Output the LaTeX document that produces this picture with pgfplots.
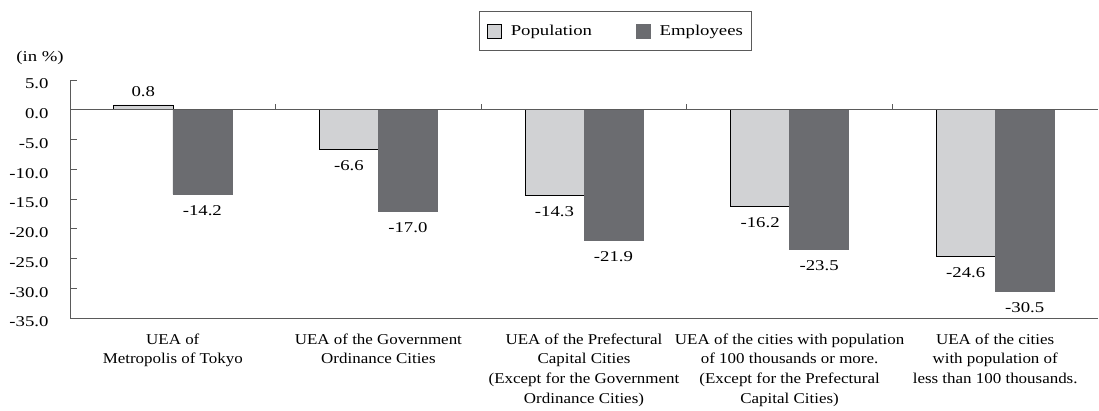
\documentclass[border=0pt]{standalone}
\usepackage{pgfplots}
\pgfplotsset{compat=1.18}
\usepackage{fontspec}
\setmainfont{Liberation Serif}[FakeStretch=1.13]
\newfontfamily\numfont{Liberation Serif}[FakeStretch=1.25]
\definecolor{popgray}{HTML}{D1D2D4}
\definecolor{empgray}{HTML}{6B6C70}
\definecolor{axgray}{HTML}{5A5A5A}
\begin{document}
\begin{tikzpicture}[font=\fontsize{15}{19.7}\selectfont]
\useasboundingbox (0,0) rectangle (1099pt,410pt);
\begin{axis}[
  at={(70pt,92pt)}, anchor=south west,
  scale only axis, width=1028pt, height=238pt,
  xmin=-0.5, xmax=4.5, ymin=-35, ymax=5,
  axis x line*=bottom, axis y line*=left,
  axis line style={draw=axgray, line width=1pt, -},
  ybar=0pt, bar width=59pt,
  xtick={0,...,4},
  xticklabels={{UEA of\\Metropolis of Tokyo},
    {UEA of the Government\\Ordinance Cities},
    {UEA of the Prefectural\\Capital Cities\\(Except for the Government\\Ordinance Cities)},
    {UEA of the cities with population\\of 100 thousands or more.\\(Except for the Prefectural\\Capital Cities)},
    {UEA of the cities\\with population of\\less than 100 thousands.}},
  xticklabel style={align=center, anchor=north, yshift=-12pt, text=black},
  x tick style={draw=none},
  ytick={-35,-30,...,5},
  yticklabels={-35.0,-30.0,-25.0,-20.0,-15.0,-10.0,-5.0,0.0,5.0},
  y tick style={draw=axgray, line width=0.8pt},
  tick align=inside, major tick length=7pt,
  yticklabel style={xshift=-18pt, yshift=-4pt, text=black, font=\fontsize{15}{18}\numfont},
  point meta=explicit symbolic,
  nodes near coords,
  every node near coord/.append style={text=black, inner sep=3pt,
    font=\fontsize{15}{18}\numfont,
    /utils/exec={\ifdim\pgfplotspointmeta pt<0pt\gdef\myanc{north}\gdef\mydy{-8pt}\else\gdef\myanc{south}\gdef\mydy{5pt}\fi},
    anchor=\myanc, yshift=\mydy},
  clip=false,
  legend columns=2,
  legend style={at={(0.5302,1.206)}, anchor=center, draw=axgray, line width=0.8pt,
    inner xsep=8pt, inner ysep=12pt, nodes={inner sep=0pt},
    font=\fontsize{15}{18}\numfont, text=black,
    /tikz/every odd column/.append style={column sep=9pt},
    /tikz/every even column/.append style={column sep=44pt}},
  legend image code/.code={\draw[#1, line width=0.6pt] (0pt,-7pt) rectangle (14pt,7pt);},
]
\addplot[fill=popgray, draw=black, line width=0.6pt] coordinates {
  (0,0.8) [0.8] (1,-6.6) [-6.6] (2,-14.3) [-14.3] (3,-16.2) [-16.2] (4,-24.6) [-24.6]};
\addlegendentry{Population}
\addplot[fill=empgray, draw=empgray, line width=0.6pt] coordinates {
  (0,-14.2) [-14.2] (1,-17.0) [-17.0] (2,-21.9) [-21.9] (3,-23.5) [-23.5] (4,-30.5) [-30.5]};
\addlegendentry{Employees}
\draw[axgray, line width=1pt] (axis cs:-0.5,0) -- (axis cs:4.5,0);
\draw[axgray, line width=0.8pt] (axis cs:0.5,0) -- ([yshift=6pt]axis cs:0.5,0);
\draw[axgray, line width=0.8pt] (axis cs:1.5,0) -- ([yshift=6pt]axis cs:1.5,0);
\draw[axgray, line width=0.8pt] (axis cs:2.5,0) -- ([yshift=6pt]axis cs:2.5,0);
\draw[axgray, line width=0.8pt] (axis cs:3.5,0) -- ([yshift=6pt]axis cs:3.5,0);
\end{axis}
\node[anchor=center, font=\fontsize{15}{18}\numfont] at (40pt,352pt) {(in \%)};
\end{tikzpicture}
\end{document}
